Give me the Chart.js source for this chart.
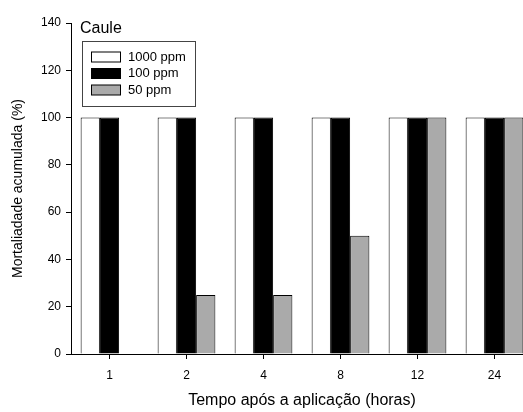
<!DOCTYPE html>
<html>
<head>
<meta charset="utf-8">
<script src="https://cdn.jsdelivr.net/npm/chart.js@4"></script>
<style>
  html, body { margin: 0; padding: 0; background: #fff; overflow: hidden; }
  #wrap { width: 523px; height: 412px; overflow: hidden; }
</style>
</head>
<body>
<div id="wrap"><canvas id="chart" width="535" height="412" style="width:535px;height:412px"></canvas></div>
<script>
// Mortalidade acumulada - Caule
const hours = ["1", "2", "4", "8", "12", "24"];
const ppm1000 = [100, 100, 100, 100, 100, 100];
const ppm100 = [100, 100, 100, 100, 100, 100];
const ppm50 = [0, 25, 25, 50, 100, 100];
const seriesNames = ["1000 ppm", "100 ppm", "50 ppm"];
const panelTitle = "Caule";

const FONT = "'Liberation Sans', Arial, sans-serif";
Chart.defaults.font.family = FONT;
Chart.defaults.color = "#000";

// legend box + panel title drawn inside the plot
const boxLegend = {
  id: "boxLegend",
  afterDraw(chart) {
    const ctx = chart.ctx;
    ctx.save();
    ctx.fillStyle = "#000";
    ctx.font = "16px " + FONT;
    ctx.textBaseline = "alphabetic";
    ctx.textAlign = "left";
    ctx.fillText(panelTitle, 80, 33);

    ctx.strokeStyle = "#444";
    ctx.lineWidth = 1;
    ctx.strokeRect(82.5, 41.5, 113, 65);

    ctx.font = "13px " + FONT;
    ctx.textBaseline = "middle";
    const ys = [57, 73.5, 90];
    chart.data.datasets.forEach((ds, i) => {
      ctx.fillStyle = ds.backgroundColor;
      ctx.fillRect(91.5, ys[i] - 5, 29, 10);
      ctx.strokeStyle = "#000";
      ctx.strokeRect(91.5, ys[i] - 5, 29, 10);
      ctx.fillStyle = "#000";
      ctx.fillText(ds.label, 128, ys[i]);
    });
    ctx.restore();
  },
};

new Chart(document.getElementById("chart"), {
  type: "bar",
  data: {
    labels: hours,
    datasets: [
      { label: seriesNames[0], data: ppm1000, backgroundColor: "#ffffff" },
      { label: seriesNames[1], data: ppm100, backgroundColor: "#000000" },
      { label: seriesNames[2], data: ppm50, backgroundColor: "#aaaaaa" },
    ].map((d) => ({
      ...d,
      borderColor: "#000",
      borderWidth: 1,
      categoryPercentage: 0.75,
      barPercentage: 1.0,
    })),
  },
  options: {
    responsive: false,
    animation: false,
    layout: { padding: { top: 23, right: 2, bottom: 0, left: 0 } },
    plugins: {
      legend: { display: false },
      tooltip: { enabled: false },
    },
    scales: {
      x: {
        afterFit: (s) => { s.height = 58; },
        grid: {
          display: true,
          offset: false,
          drawOnChartArea: false,
          drawTicks: true,
          tickLength: 5,
          color: "#000",
        },
        border: { display: true, color: "#000", width: 1 },
        ticks: { font: { size: 12 }, padding: 9, color: "#000" },
        title: {
          display: true,
          text: "Tempo após a aplicação (horas)",
          font: { size: 16 },
          padding: { top: 0, bottom: 2 },
          color: "#000",
        },
      },
      y: {
        min: 0,
        max: 140,
        afterFit: (s) => { s.width = 71; },
        grid: {
          display: true,
          drawOnChartArea: false,
          drawTicks: true,
          tickLength: 5,
          color: "#000",
        },
        border: { display: true, color: "#000", width: 1 },
        ticks: { stepSize: 20, font: { size: 12 }, padding: 5, color: "#000" },
        title: {
          display: true,
          text: "Mortaliadade acumulada (%)",
          font: { size: 14 },
          padding: { top: 10, bottom: 0 },
          color: "#000",
        },
      },
    },
  },
  plugins: [boxLegend],
});
</script>
</body>
</html>
